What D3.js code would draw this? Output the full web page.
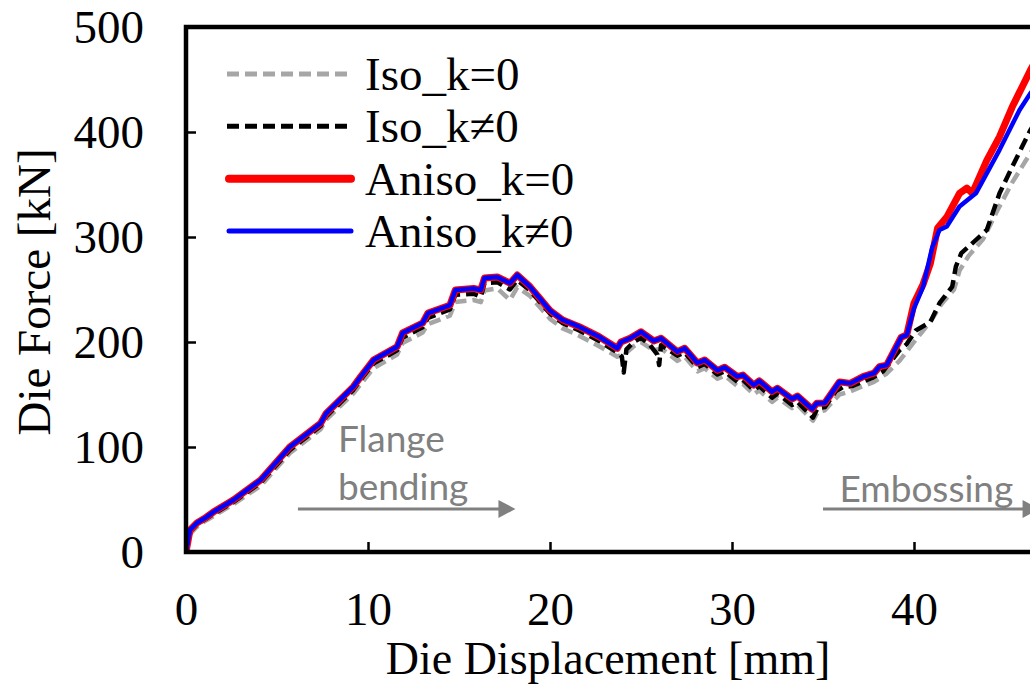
<!DOCTYPE html>
<html>
<head>
<meta charset="utf-8">
<script src="https://cdn.jsdelivr.net/npm/d3@7"></script>
<style>
  body { margin: 0; background: #fff; }
  svg { display: block; }
</style>
</head>
<body>
<div id="chart"></div>
<script>
const width = 1030;
const height = 685;

// Force-displacement curves: [displacement mm, force kN]
const iso0 = [
  [0,0],[0.22,17],[0.6,24],[1.1,30],[1.5,34],[2.6,45.5],[4.1,63],[5.7,94],[7.4,117],[7.7,126],
  [9.2,151],[9.6,160],[10.3,175],[11.6,188],[11.9,199],[13.0,209],[13.3,217],[14.5,225],[14.8,238],
  [15.8,240],[16.2,238],[16.4,249],[17.1,251],[17.8,240],[18.2,252],[18.9,244],[20.0,222],[20.7,213],
  [21.6,206],[22.7,196],[23.7,186],[24.2,190],[24.6,196],[25.0,200],[25.7,192],[26.1,194],[27.0,182],
  [27.4,186],[28.1,172],[28.5,175],[29.2,165],[29.6,168],[30.3,158],[30.6,160],[31.2,150],[31.5,154],
  [32.2,143],[32.5,147],[33.3,137],[33.6,140],[34.45,125],[34.7,133],[35.1,135],[35.9,150],[36.5,153],
  [37.2,158],[37.8,162],[38.5,170],[39.2,182],[40.0,200],[40.6,213],[41.0,222],[41.5,236],[42.2,250],
  [42.5,268],[43.0,282],[43.8,298],[44.6,326],[45.4,352],[46.4,380],[47,395]
];
const isoK = [
  [0,0],[0.22,19],[0.6,26],[1.1,31.5],[1.5,36],[2.6,47.5],[4.1,66],[5.7,97],[7.4,120],[7.7,129],
  [9.2,154.5],[9.6,164],[10.3,179.5],[11.6,192],[11.9,204],[13.0,214],[13.3,223],[14.5,231],[14.8,245],
  [15.8,246],[16.2,243],[16.4,256],[17.1,257],[17.8,250],[18.2,259],[18.9,249],[20.0,227],[20.7,218],
  [21.6,211],[22.7,201],[23.7,190],[23.95,186],[24.05,171],[24.2,193],[24.6,200],[25.0,204],[25.5,197],
  [25.9,188],[26.0,178],[26.1,197],[27.0,187],[27.4,190],[28.1,176],[28.5,179],[29.2,169],[29.6,172],
  [30.3,162],[30.6,164],[31.2,154],[31.5,158],[32.2,147],[32.5,151],[33.3,140],[33.6,143],[34.45,128],
  [34.7,137],[35.1,138],[35.7,153],[36.1,157],[36.6,158],[37.7,165.7],[38.3,172],[39.2,192],[39.6,198],
  [40.1,211],[40.9,219],[41.4,237],[42.1,252.7],[42.3,271.7],[42.6,284.6],[43.2,294],[44.0,306.7],
  [44.7,341.6],[45.4,367],[46.4,402],[47,418]
];
const aniso0 = [
  [0,0],[0.22,21],[0.6,27.6],[1.1,33],[1.5,38],[2.6,49.5],[4.1,68.6],[5.7,100],[7.4,122.6],[7.7,132],
  [9.2,157.5],[9.6,167],[10.3,182.8],[11.6,195.5],[11.9,208.6],[13.0,218],[13.3,227.6],[14.5,235],
  [14.8,249.5],[15.8,251],[16.2,249.5],[16.4,261],[17.1,262],[17.8,256],[18.2,263.8],[18.9,252.7],
  [20.0,230],[20.7,221],[21.6,214.6],[22.7,205],[23.7,194],[23.9,200],[24.4,203.5],[25.0,209.8],
  [25.7,201],[26.1,203.5],[27.0,190.8],[27.4,194],[28.1,180],[28.5,182.8],[29.2,173],[29.6,176],
  [30.3,167],[30.6,168.5],[31.2,159],[31.5,163],[32.2,152.7],[32.5,156],[33.3,145.7],[33.6,148.6],
  [34.4,136],[34.65,141.6],[35.1,142],[35.9,162],[36.5,160.6],[37.2,167],[37.8,170.3],[38.1,176.5],
  [38.5,178],[39.3,204.6],[39.6,206.6],[40.0,237],[40.5,255],[40.9,275],[41.3,308.6],[41.8,319],
  [42.5,341.6],[42.9,346.6],[43.2,341.6],[44.0,373],[44.7,395.5],[45.4,424],[46.4,459],[47,478]
];
const anisoK = [
  [0,0],[0.22,21],[0.6,27.6],[1.1,33],[1.5,38],[2.6,49.5],[4.1,68.6],[5.7,100],[7.4,122.6],[7.7,132],
  [9.2,157.5],[9.6,167],[10.3,182.8],[11.6,195.5],[11.9,208.6],[13.0,218],[13.3,227.6],[14.5,235],
  [14.8,249.5],[15.8,251],[16.2,249.5],[16.4,261],[17.1,262],[17.8,256],[18.2,263.8],[18.9,252.7],
  [20.0,230],[20.7,221],[21.6,214.6],[22.7,205],[23.7,194],[23.9,200],[24.4,203.5],[25.0,209.8],
  [25.7,201],[26.1,203.5],[27.0,190.8],[27.4,194],[28.1,180],[28.5,182.8],[29.2,173],[29.6,176],
  [30.3,167],[30.6,168.5],[31.2,159],[31.5,163],[32.2,152.7],[32.5,156],[33.3,145.7],[33.6,148.6],
  [34.4,136],[34.65,141.6],[35.1,142],[35.9,162],[36.5,160.6],[37.2,167],[37.8,170.3],[38.1,176.5],
  [38.5,178],[39.3,204.6],[39.6,206.6],[40.0,232],[40.5,252.7],[41.0,290],[41.4,306.7],[41.8,310],
  [42.5,329],[43.4,341.6],[44.7,383],[45.8,421],[46.4,437],[47,450]
];

const seriesNames = ['Iso_k=0', 'Iso_k\u22600', 'Aniso_k=0', 'Aniso_k\u22600'];
const xTicks = [0, 10, 20, 30, 40];
const yTicks = [0, 100, 200, 300, 400, 500];

// phase annotations: label lines, arrow start/end (mm) at force level (kN)
const phases = [
  { lines: ['Flange', 'bending'], textX: 8.35, textY: [95, 49.5], from: 6.15, to: 18.1, at: 41 },
  { lines: ['Embossing'], textX: 35.9, textY: [47.6], from: 35.0, to: 46.9, at: 41 }
];

const styles = [
  { data: iso0, color: '#a6a6a6', w: 4.5, dash: '12,6' },
  { data: isoK, color: '#000000', w: 4.5, dash: '12,6' },
  { data: aniso0, color: '#ff0000', w: 7, dash: null },
  { data: anisoK, color: '#0000ff', w: 4.5, dash: null }
];

const plot = { left: 186, right: 1096, top: 27, bottom: 552 };

const svg = d3.select('#chart').append('svg')
  .attr('width', width)
  .attr('height', height);

const x = d3.scaleLinear().domain([0, 50]).range([plot.left, plot.right]);
const y = d3.scaleLinear().domain([0, 500]).range([plot.bottom, plot.top]);

const serif = "'Liberation Serif', 'Times New Roman', serif";

svg.append('clipPath').attr('id', 'clip')
  .append('rect')
  .attr('x', plot.left).attr('y', plot.top)
  .attr('width', plot.right - plot.left).attr('height', plot.bottom - plot.top);

// curves
const line = d3.line().x(d => x(d[0])).y(d => y(d[1]));
const curves = svg.append('g').attr('clip-path', 'url(#clip)');
styles.forEach(s => {
  curves.append('path')
    .attr('d', line(s.data))
    .attr('fill', 'none')
    .attr('stroke', s.color)
    .attr('stroke-width', s.w)
    .attr('stroke-linejoin', 'round')
    .attr('stroke-linecap', s.dash ? 'butt' : 'round')
    .attr('stroke-dasharray', s.dash);
});

// axes with inward ticks
const yAxis = svg.append('g')
  .attr('transform', `translate(${plot.left},0)`)
  .call(d3.axisLeft(y).tickValues(yTicks).tickSizeInner(-10).tickSizeOuter(0).tickPadding(42));
const xAxis = svg.append('g')
  .attr('transform', `translate(0,${plot.bottom})`)
  .call(d3.axisBottom(x).tickValues(xTicks).tickSizeInner(-10).tickSizeOuter(0).tickPadding(40));

[xAxis, yAxis].forEach(a => {
  a.select('.domain').remove();
  a.selectAll('.tick line').attr('stroke', '#000').attr('stroke-width', 2.5);
  a.selectAll('.tick text')
    .attr('fill', '#000')
    .style('font-family', serif)
    .style('font-size', '47px');
});

// plot frame
svg.append('rect')
  .attr('x', plot.left).attr('y', plot.top)
  .attr('width', plot.right - plot.left).attr('height', plot.bottom - plot.top)
  .attr('fill', 'none')
  .attr('stroke', '#000')
  .attr('stroke-width', 4.5);

// axis titles
svg.append('text')
  .attr('x', 608).attr('y', 674)
  .attr('text-anchor', 'middle')
  .style('font-family', serif).style('font-size', '46px')
  .text('Die Displacement [mm]');

svg.append('text')
  .attr('transform', 'translate(50,292) rotate(-90)')
  .attr('text-anchor', 'middle')
  .style('font-family', serif).style('font-size', '47px')
  .text('Die Force [kN]');

// phase annotations
const grey = '#808080';
phases.forEach(p => {
  p.lines.forEach((t, i) => {
    svg.append('text')
      .attr('x', x(p.textX)).attr('y', y(p.textY[i]))
      .attr('fill', grey)
      .style('font-family', 'Lato, sans-serif')
      .style('font-size', '37px')
      .text(t);
  });
  const ay = y(p.at), x0 = x(p.from), x1 = x(p.to);
  svg.append('line')
    .attr('x1', x0).attr('x2', x1 - 12)
    .attr('y1', ay).attr('y2', ay)
    .attr('stroke', grey).attr('stroke-width', 3);
  svg.append('path')
    .attr('d', `M${x1},${ay} L${x1 - 17},${ay - 9} L${x1 - 17},${ay + 9} Z`)
    .attr('fill', grey);
});

// legend
const legend = svg.append('g');
const legendY = d3.scalePoint().domain(seriesNames).range([74, 231]);
seriesNames.forEach((name, i) => {
  const s = styles[i];
  const ly = legendY(name);
  legend.append('line')
    .attr('x1', s.dash ? 227 : 229).attr('x2', s.dash ? 353 : 351)
    .attr('y1', ly).attr('y2', ly)
    .attr('stroke', s.color)
    .attr('stroke-width', s.w === 7 ? 8 : 5)
    .attr('stroke-linecap', s.dash ? 'butt' : 'round')
    .attr('stroke-dasharray', s.dash);
  legend.append('text')
    .attr('x', 365).attr('y', ly + 16)
    .style('font-family', serif).style('font-size', '47px')
    .text(name);
});
</script>
</body>
</html>
